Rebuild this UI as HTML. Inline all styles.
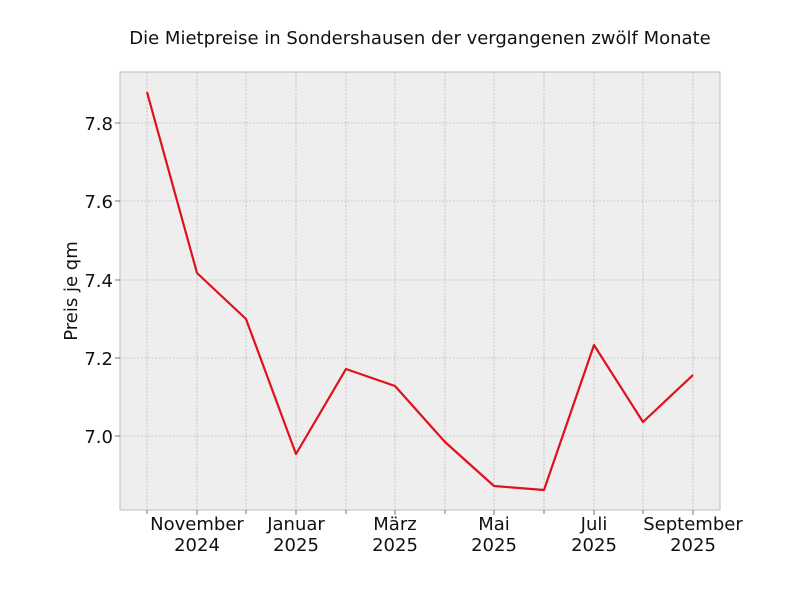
<!DOCTYPE html>
<html><head><meta charset="utf-8"><style>
body{margin:0;background:#fff;}
svg{display:block;font-family:"DejaVu Sans","Liberation Sans",sans-serif;}
</style></head><body>
<svg width="800" height="600" viewBox="0 0 800 600" xmlns="http://www.w3.org/2000/svg">
<rect width="800" height="600" fill="#fff"/>
<rect x="120" y="72" width="600" height="438" fill="#eeeeee" stroke="#bcbcbc" stroke-width="1"/>
<g stroke="#a8a8a8" stroke-width="0.6" stroke-dasharray="2,1.5">
<line x1="147" y1="72" x2="147" y2="510"/><line x1="197" y1="72" x2="197" y2="510"/>
<line x1="246" y1="72" x2="246" y2="510"/><line x1="296" y1="72" x2="296" y2="510"/>
<line x1="346" y1="72" x2="346" y2="510"/><line x1="395" y1="72" x2="395" y2="510"/>
<line x1="445" y1="72" x2="445" y2="510"/><line x1="494" y1="72" x2="494" y2="510"/>
<line x1="544" y1="72" x2="544" y2="510"/><line x1="594" y1="72" x2="594" y2="510"/>
<line x1="643" y1="72" x2="643" y2="510"/><line x1="693" y1="72" x2="693" y2="510"/>
<line x1="120" y1="123" x2="720" y2="123"/><line x1="120" y1="201" x2="720" y2="201"/>
<line x1="120" y1="280" x2="720" y2="280"/><line x1="120" y1="358" x2="720" y2="358"/>
<line x1="120" y1="436" x2="720" y2="436"/>
</g>
<g stroke="#555" stroke-width="0.8">
<line x1="147" y1="510" x2="147" y2="514"/><line x1="197" y1="510" x2="197" y2="515"/>
<line x1="246" y1="510" x2="246" y2="514"/><line x1="296" y1="510" x2="296" y2="515"/>
<line x1="346" y1="510" x2="346" y2="514"/><line x1="395" y1="510" x2="395" y2="515"/>
<line x1="445" y1="510" x2="445" y2="514"/><line x1="494" y1="510" x2="494" y2="515"/>
<line x1="544" y1="510" x2="544" y2="514"/><line x1="594" y1="510" x2="594" y2="515"/>
<line x1="643" y1="510" x2="643" y2="514"/><line x1="693" y1="510" x2="693" y2="515"/>
<line x1="115" y1="123" x2="120" y2="123"/><line x1="115" y1="201" x2="120" y2="201"/>
<line x1="115" y1="280" x2="120" y2="280"/><line x1="115" y1="358" x2="120" y2="358"/>
<line x1="115" y1="436" x2="120" y2="436"/>
</g>
<polyline fill="none" stroke="#e0101c" stroke-width="2.2" stroke-linejoin="round"
points="147,92 197,273 246,319 296,454 346,369 395,386 445,442 494,486 544,490 594,345 643,422 693,375"/>
<g font-size="18" fill="#111" text-anchor="end">
<text x="113" y="130">7.8</text><text x="113" y="208">7.6</text>
<text x="113" y="287">7.4</text><text x="113" y="365">7.2</text><text x="113" y="443">7.0</text>
</g>
<g font-size="18" fill="#111" text-anchor="middle">
<text x="197" y="530">November</text><text x="197" y="551">2024</text>
<text x="296" y="530">Januar</text><text x="296" y="551">2025</text>
<text x="395" y="530">März</text><text x="395" y="551">2025</text>
<text x="494" y="530">Mai</text><text x="494" y="551">2025</text>
<text x="594" y="530">Juli</text><text x="594" y="551">2025</text>
<text x="693" y="530">September</text><text x="693" y="551">2025</text>
</g>
<text x="77" y="291" font-size="18" fill="#111" text-anchor="middle" transform="rotate(-90 77 291)">Preis je qm</text>
<text x="420" y="44" font-size="18" fill="#111" text-anchor="middle">Die Mietpreise in Sondershausen der vergangenen zwölf Monate</text>
</svg>
</body></html>
